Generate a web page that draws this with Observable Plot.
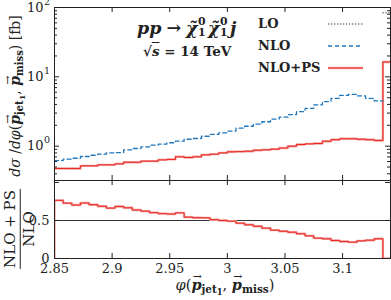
<!DOCTYPE html>
<html><head><meta charset="utf-8">
<script src="https://cdn.jsdelivr.net/npm/d3@7"></script>
<script src="https://cdn.jsdelivr.net/npm/@observablehq/plot@0.6"></script>
<style>
body{margin:0;background:#fff;}
#wrap{position:relative;width:391px;height:300px;overflow:hidden;font-family:"DejaVu Serif",serif;color:#222;}
#top,#bot{position:absolute;left:0;}
#top{top:0}
#bot{top:179px}
svg{overflow:visible}
.ov{position:absolute;white-space:nowrap;line-height:1;}
.b{font-weight:bold}
.vec{position:relative;display:inline-block;font-style:italic;}
.vec::after{content:"\2192";position:absolute;left:0.12em;top:-0.55em;font-size:0.75em;font-style:normal;font-weight:normal;}
.ss{display:inline-block;position:relative;width:0.6em;height:0.8em;}
.ss .u{position:absolute;left:0.06em;top:-0.32em;font-size:0.62em;line-height:1;font-style:normal;}
.ss .d{position:absolute;left:0.06em;bottom:-0.42em;font-size:0.62em;line-height:1;font-style:normal;}
.arr{margin:0 0.28em;}
sub{font-size:0.72em;vertical-align:-0.3em;line-height:0;}
sub sub{font-size:0.8em;vertical-align:-0.25em;}
.frac{display:inline-flex;flex-direction:column;align-items:center;line-height:1.05;}
.frac .num{border-bottom:1.2px solid #222;padding:0 1px 1px 1px;}
.frac .den{padding-top:1px;}
</style></head><body>
<div id="wrap">
  <div id="top"></div>
  <div id="bot"></div>
  <div class="ov b" style="left:137px;top:20px;font-size:17.5px;"><i>pp</i><span class="arr">&#8594;</span><i>&#967;&#771;</i><span class="ss"><span class="u">0</span><span class="d">1</span></span><i>&#967;&#771;</i><span class="ss"><span class="u">0</span><span class="d">1</span></span><i>j</i></div>
  <div class="ov b" style="left:143px;top:45px;font-size:13.5px;">&#8730;<span style="text-decoration:overline"><i>s</i></span> = 14 TeV</div>
  <div class="ov b" style="left:258px;top:17px;font-size:13px;">LO</div>
  <div class="ov b" style="left:258px;top:39px;font-size:13px;">NLO</div>
  <div class="ov b" style="left:258px;top:61px;font-size:13px;">NLO+PS</div>
  <svg class="ov" style="left:0;top:0" width="391" height="300">
    <line x1="328" x2="363" y1="24" y2="24" stroke="#333" stroke-width="1.2" stroke-dasharray="1.3,1.7"/>
    <line x1="328" x2="363" y1="46" y2="46" stroke="#1f77bd" stroke-width="1.3" stroke-dasharray="4,3"/>
    <line x1="328" x2="363" y1="68" y2="68" stroke="#f4a3a3" stroke-width="2.4"/>
    <line x1="328" x2="363" y1="68" y2="68" stroke="#e8261e" stroke-width="1"/>
  </svg>
  <div class="ov" id="ylab" style="left:15px;top:96px;font-size:14px;transform:translate(-50%,-50%) rotate(-90deg);"><i>d&#963;</i> /<i>d&#966;</i>(<span class="vec b">p</span><sub class="b">jet<sub>1</sub></sub>, <span class="vec b">p</span><sub class="b">miss</sub>) [fb]</div>
  <div class="ov" id="rlab" style="left:20px;top:229px;font-size:15px;transform:translate(-50%,-50%) rotate(-90deg);"><span class="frac"><span class="num">NLO + PS</span><span class="den">NLO</span></span></div>
  <div class="ov" id="xlab" style="left:225px;top:278px;font-size:14.5px;transform:translateX(-50%);"><i>&#966;</i>(<span class="vec b">p</span><sub class="b">jet<sub>1</sub></sub>, <span class="vec b">p</span><sub class="b">miss</sub>)</div>
</div>
<script>
// bin edges of the histogram (x)
const binEdges = [2.85, 2.8575, 2.865, 2.8725, 2.88, 2.8875, 2.895, 2.9025, 2.91, 2.9175,
  2.925, 2.9325, 2.94, 2.9475, 2.955, 2.9625, 2.97, 2.9775, 2.985, 2.9925,
  3.0, 3.0075, 3.015, 3.0225, 3.03, 3.0375, 3.045, 3.0525, 3.06, 3.0675,
  3.075, 3.0825, 3.09, 3.0975, 3.105, 3.1125, 3.12, 3.1275, 3.135, 3.14159];
// dσ/dφ [fb] per bin
const nlops = [0.476, 0.476, 0.476, 0.52, 0.52, 0.538, 0.538, 0.556, 0.587, 0.587,
  0.608, 0.608, 0.635, 0.645, 0.703, 0.687, 0.703, 0.75, 0.767, 0.80,
  0.83, 0.835, 0.847, 0.875, 0.886, 0.906, 0.94, 1.0, 1.058, 1.08,
  1.094, 1.18, 1.24, 1.28, 1.28, 1.26, 1.24, 1.21, 16.4];
const nlo = [0.62, 0.65, 0.67, 0.71, 0.74, 0.767, 0.80, 0.81, 0.886, 0.926,
  0.98, 1.035, 1.07, 1.12, 1.18, 1.26, 1.29, 1.39, 1.48, 1.56,
  1.65, 1.82, 1.94, 2.08, 2.25, 2.46, 2.62, 2.86, 3.15, 3.5,
  3.95, 4.4, 4.9, 5.4, 5.6, 5.3, 4.9, 4.5, null];
const lo = [0,0,0,0,0,0,0,0,0,0, 0,0,0,0,0,0,0,0,0,0, 0,0,0,0,0,0,0,0,0,0, 0,0,0,0,0,0,0,0, 84];
// ratio NLO+PS / NLO per bin
const ratio = [0.765, 0.728, 0.703, 0.730, 0.708, 0.688, 0.663, 0.684, 0.667, 0.638,
  0.623, 0.603, 0.590, 0.585, 0.600, 0.544, 0.537, 0.535, 0.510, 0.500,
  0.491, 0.465, 0.443, 0.425, 0.399, 0.373, 0.359, 0.346, 0.325, 0.298,
  0.268, 0.259, 0.237, 0.224, 0.215, 0.232, 0.241, 0.259, 0];
const ratioRef = [0.5];
// ticks
const xTicks = [2.85, 2.9, 2.95, 3, 3.05, 3.1];
const xTickLabels = ["2.85", "2.9", "2.95", "3", "3.05", "3.1"];
const yMajor = [1, 10, 100];
const yMinor = [0.4,0.5,0.6,0.7,0.8,0.9, 2,3,4,5,6,7,8,9, 20,30,40,50,60,70,80,90];
const rTicks = [0, 0.5, 1];
const rTickLabels = [["0", 0], ["0.5", 0.5]];

const W = 391, ML = 54, MR = 1;
const IW = W - ML - MR;
const steps = (vals) => vals.flatMap((v, i) => v == null ? [{x: binEdges[i], y: null}]
  : [{x: binEdges[i], y: v}, {x: binEdges[i + 1], y: v}]);
const font = {fontFamily: "DejaVu Serif", fontSize: "13px", color: "#222", background: "transparent", overflow: "visible"};
const frameCol = "#222";

// top panel
const TH = 181, TMT = 7, TMB = 1, TIH = TH - TMT - TMB;
const loBins = lo.map((v, i) => ({x1: binEdges[i], x2: binEdges[i + 1], v})).filter(d => d.v > 0);
const topPlot = Plot.plot({
  width: W, height: TH, marginLeft: ML, marginRight: MR, marginTop: TMT, marginBottom: TMB,
  style: font,
  x: {domain: [2.85, Math.PI], axis: null},
  y: {type: "log", domain: [0.32, 100], axis: null},
  marks: [
    Plot.line(steps(nlops), {x: "x", y: "y", stroke: "#f4a3a3", strokeWidth: 2.4, clip: true}),
    Plot.line(steps(nlops), {x: "x", y: "y", stroke: "#e8261e", strokeWidth: 1, clip: true}),
    Plot.line(steps(nlo), {x: "x", y: "y", stroke: "#1f77bd", strokeWidth: 1.3, strokeDasharray: "4,3", clip: true}),
    Plot.ruleX(loBins, {x: "x1", y1: "v", stroke: "#333", strokeWidth: 1.2, strokeDasharray: "1.3,1.7"}),
    Plot.ruleY(loBins, {y: "v", x1: "x1", x2: "x2", stroke: "#333", strokeWidth: 1.2, strokeDasharray: "1.3,1.7"}),
    Plot.tickX(xTicks, {x: d => d, insetTop: TIH - 5, stroke: frameCol}),
    Plot.tickX(xTicks, {x: d => d, insetBottom: TIH - 5, stroke: frameCol}),
    Plot.tickY(yMajor, {y: d => d, insetRight: IW - 5, stroke: frameCol}),
    Plot.tickY(yMajor, {y: d => d, insetLeft: IW - 5, stroke: frameCol}),
    Plot.tickY(yMinor, {y: d => d, insetRight: IW - 3, stroke: frameCol}),
    Plot.tickY(yMinor, {y: d => d, insetLeft: IW - 3, stroke: frameCol}),
    Plot.text(yMajor, {y: d => d, text: () => "10", frameAnchor: "left", dx: -11, textAnchor: "end", fill: "#222"}),
    Plot.text(yMajor, {y: d => d, text: d => String(Math.round(Math.log10(d))), frameAnchor: "left", dx: -10.5, dy: -6, textAnchor: "start", fontSize: 9.5, fill: "#222"}),
    Plot.frame({stroke: frameCol})
  ]
});
document.getElementById("top").append(topPlot);

// ratio panel
const BH = 121, BMT = 1, BMB = 42, BIH = BH - BMT - BMB;
const ratioSteps = [{x: binEdges[0], y: 0}, ...steps(ratio)];
const botPlot = Plot.plot({
  width: W, height: BH, marginLeft: ML, marginRight: MR, marginTop: BMT, marginBottom: BMB,
  style: font,
  x: {domain: [2.85, Math.PI], axis: null},
  y: {domain: [0, 1.026], axis: null},
  marks: [
    Plot.ruleY(ratioRef, {y: d => d, stroke: "#333", strokeWidth: 1}),
    Plot.line(ratioSteps, {x: "x", y: "y", stroke: "#f4a3a3", strokeWidth: 2.4, clip: true}),
    Plot.line(ratioSteps, {x: "x", y: "y", stroke: "#e8261e", strokeWidth: 1, clip: true}),
    Plot.tickX(xTicks, {x: d => d, insetTop: BIH - 5, stroke: frameCol}),
    Plot.tickX(xTicks, {x: d => d, insetBottom: BIH - 5, stroke: frameCol}),
    Plot.tickY(rTicks, {y: d => d, insetRight: IW - 5, stroke: frameCol}),
    Plot.tickY(rTicks, {y: d => d, insetLeft: IW - 5, stroke: frameCol}),
    Plot.text(xTicks, {x: d => d, text: (d, i) => xTickLabels[i], frameAnchor: "bottom", dy: 14, fill: "#222"}),
    Plot.text(rTickLabels, {y: d => d[1], text: d => d[0], frameAnchor: "left", dx: -5, textAnchor: "end", fill: "#222"}),
    Plot.frame({stroke: frameCol})
  ]
});
document.getElementById("bot").append(botPlot);
</script>
</body></html>
